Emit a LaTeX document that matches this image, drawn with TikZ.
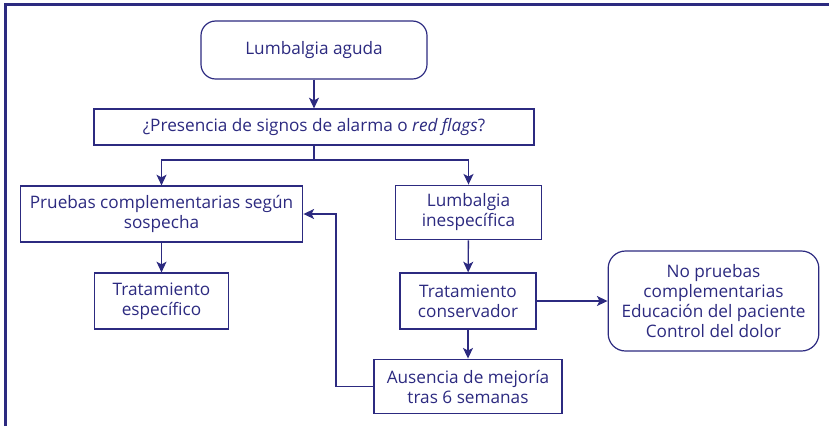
\documentclass[tikz,border=0pt]{standalone}
\usepackage{fontspec}
\setmainfont{Open Sans}
\usetikzlibrary{arrows.meta,positioning}
\definecolor{fg}{RGB}{44,42,128}
\tikzset{
  every picture/.style={fg, line width=1.05pt, line join=miter,
    >={Stealth[length=8pt,width=7.5pt,inset=2pt]}},
  every node/.style={font=\fontsize{12.9}{15}\selectfont, text=fg, align=center},
  % Cajas
  box/.style={draw, line width=0.9pt, inner sep=1pt},
  rbox/.style={box, rounded corners=11pt},
  % Conectores
  arr/.style={->},
}
\begin{document}
\begin{tikzpicture}[x=0.75pt, y=-0.75pt]
  \useasboundingbox (0,0) rectangle (829,426);
  % Marco
  \draw[line width=1.9pt] (5.5,426) -- (5.5,4.5) -- (829,4.5);
  % Cajas
  \node[rbox, minimum width=169.5pt, minimum height=43.5pt] (lumb) at (314,50) {Lumbalgia aguda};
  \node[box, minimum width=330pt, minimum height=27pt] (pres) at (314,127) {¿Presencia de signos de alarma o \textit{red flags}?};
  \node[box, minimum width=212pt, minimum height=42pt] (pruebas) at (161.5,214) {Pruebas complementarias según\\sospecha};
  \node[box, minimum width=109pt, minimum height=41pt] (inesp) at (468.5,212.5) {Lumbalgia\\inespecífica};
  \node[box, minimum width=101pt, minimum height=42pt] (especif) at (161.5,301) {Tratamiento\\específico};
  \node[box, minimum width=102pt, minimum height=42pt] (conserv) at (468,301) {Tratamiento\\conservador};
  \node[box, minimum width=141pt, minimum height=41pt] (ausencia) at (468,386.5) {Ausencia de mejoría\\tras 6 semanas};
  \node[rbox, rounded corners=13pt, minimum width=158pt, minimum height=75pt] (nopr) at (713.5,301) {No pruebas\\complementarias\\Educación del paciente\\Control del dolor};
  % Conectores
  \coordinate (split) at (314,160);
  \coordinate (back) at (336,386.5);
  \draw[arr] (lumb) -- (pres);
  \draw (pres.south) -- (split);
  \draw[arr] (split) -| (pruebas.north);
  \draw[arr] (split) -| (inesp.north);
  \draw[arr] (pruebas) -- (especif);
  \draw[arr] (inesp) -- (conserv);
  \draw[arr] (conserv) -- (ausencia);
  \draw[arr] (conserv) -- (nopr);
  \draw[arr] (ausencia.west) -- (back) |- (pruebas.east);
\end{tikzpicture}
\end{document}
